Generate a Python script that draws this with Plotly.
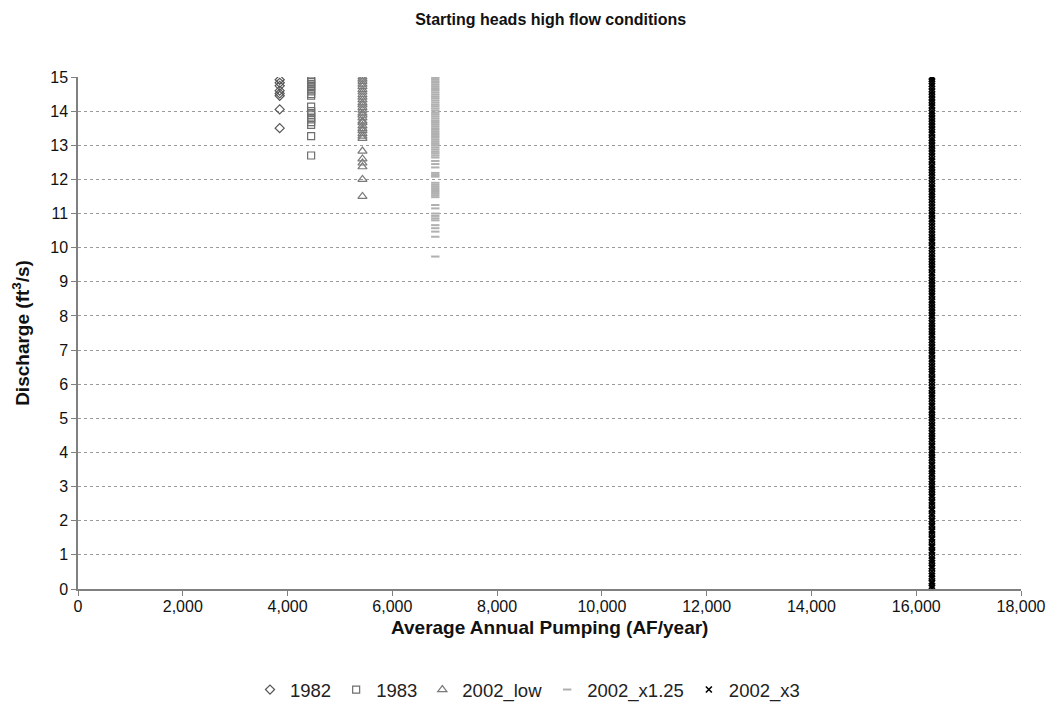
import plotly.graph_objects as go

# Average annual pumping (AF/year) for each scenario
pumping = {
    "1982": 3850,
    "1983": 4450,
    "2002_low": 5430,
    "2002_x1.25": 6820,
    "2002_x3": 16300,
}

# Discharge (ft3/s) values for each scenario
q_1982 = [14.92, 14.83, 14.74, 14.6, 14.52, 14.45, 14.05, 13.5]

q_1983 = [14.95, 14.9, 14.86, 14.8, 14.74, 14.7, 14.63, 14.58, 14.5, 14.45,
          14.13, 14.0, 13.94, 13.88, 13.81, 13.76, 13.68, 13.6, 13.27, 12.7]

q_2002_low = [15.0, 14.94, 14.87, 14.79, 14.72, 14.63, 14.56, 14.48, 14.41, 14.33,
              14.24, 14.18, 14.1, 14.03, 13.94, 13.88, 13.8, 13.71, 13.66, 13.57,
              13.49, 13.43, 13.34, 13.27, 13.2, 12.83, 12.6, 12.48, 12.37, 12.0,
              11.5]

q_2002_x125 = [15.0, 14.94, 14.88, 14.83, 14.77, 14.71, 14.65, 14.6, 14.54, 14.48,
               14.42, 14.37, 14.31, 14.25, 14.19, 14.14, 14.08, 14.02, 13.96, 13.91,
               13.85, 13.79, 13.73, 13.68, 13.62, 13.56, 13.5, 13.45, 13.39, 13.33,
               13.27, 13.22, 13.16, 13.1, 13.04, 12.99, 12.93, 12.87, 12.81, 12.76,
               12.7, 12.64, 12.54, 12.45, 12.35, 12.19, 12.13, 12.08, 11.9, 11.84,
               11.78, 11.72, 11.66, 11.6, 11.54, 11.48, 11.25, 11.15, 11.0, 10.93,
               10.86, 10.8, 10.66, 10.57, 10.47, 10.32, 9.74]

q_2002_x3 = [0.03, 0.09, 0.17, 0.22, 0.31, 0.38, 0.44, 0.52, 0.61, 0.67,
             0.76, 0.83, 0.9, 0.98, 1.07, 1.13, 1.22, 1.28, 1.37, 1.45,
             1.51, 1.6, 1.68, 1.74, 1.83, 1.9, 1.99, 2.05, 2.14, 2.21,
             2.3, 2.36, 2.45, 2.53, 2.6, 2.69, 2.75, 2.84, 2.92, 2.99,
             3.07, 3.15, 3.22, 3.31, 3.38, 3.46, 3.53, 3.62, 3.69, 3.78,
             3.85, 3.93, 4.01, 4.08, 4.17, 4.24, 4.33, 4.4, 4.48, 4.56,
             4.63, 4.72, 4.79, 4.87, 4.95, 5.03, 5.1, 5.19, 5.26, 5.35,
             5.42, 5.5, 5.58, 5.66, 5.73, 5.82, 5.89, 5.97, 6.05, 6.13,
             6.2, 6.29, 6.36, 6.44, 6.52, 6.6, 6.68, 6.75, 6.84, 6.91,
             6.99, 7.07, 7.15, 7.23, 7.3, 7.39, 7.46, 7.54, 7.62, 7.7,
             7.78, 7.85, 7.94, 8.01, 8.09, 8.17, 8.25, 8.33, 8.41, 8.48,
             8.57, 8.64, 8.72, 8.8, 8.88, 8.96, 9.04, 9.12, 9.2, 9.27,
             9.36, 9.43, 9.51, 9.59, 9.67, 9.75, 9.83, 9.91, 9.99, 10.06,
             10.15, 10.22, 10.3, 10.38, 10.46, 10.54, 10.62, 10.7, 10.78, 10.85,
             10.94, 11.01, 11.09, 11.17, 11.25, 11.33, 11.41, 11.49, 11.57, 11.64,
             11.73, 11.8, 11.88, 11.96, 12.04, 12.12, 12.2, 12.28, 12.36, 12.43,
             12.52, 12.59, 12.67, 12.75, 12.83, 12.91, 12.99, 13.07, 13.15, 13.22,
             13.31, 13.38, 13.46, 13.54, 13.62, 13.7, 13.78, 13.86, 13.94, 14.01,
             14.1, 14.17, 14.25, 14.33, 14.41, 14.49, 14.57, 14.65, 14.73, 14.8,
             14.88, 14.95, 15.0]

x_ticks = [0, 2000, 4000, 6000, 8000, 10000, 12000, 14000, 16000, 18000]
y_ticks = list(range(0, 16))

FONT = "Liberation Sans, Arial, sans-serif"

series = [
    ("1982", q_1982, dict(symbol="diamond-open", size=7, color="#555555",
                          line=dict(width=1.2, color="#555555"))),
    ("1983", q_1983, dict(symbol="square-open", size=7, color="#6e6e6e",
                          line=dict(width=1.2, color="#6e6e6e"))),
    ("2002_low", q_2002_low, dict(symbol="triangle-up-open", size=8, color="#7a7a7a",
                                  line=dict(width=1.2, color="#7a7a7a"))),
    ("2002_x1.25", q_2002_x125, dict(symbol="line-ew", size=6, color="#b0b0b0",
                                     line=dict(width=2, color="#b0b0b0"))),
    ("2002_x3", q_2002_x3, dict(symbol="x-thin", size=6, color="#000000",
                                line=dict(width=1.6, color="#000000"))),
]

fig = go.Figure()
for name, q, marker in series:
    fig.add_trace(go.Scatter(
        x=[pumping[name]] * len(q),
        y=q,
        mode="markers",
        name=name,
        marker=marker,
    ))

# x-axis title placed just under the tick labels
fig.add_annotation(
    text="<b>Average Annual Pumping (AF/year)</b>",
    xref="paper", x=0.5, xanchor="center",
    yref="paper", y=(589 - 627) / 512, yanchor="middle",
    showarrow=False,
    font=dict(size=19, family=FONT, color="#111111"),
)

fig.update_layout(
    width=1055,
    height=714,
    margin=dict(l=78, r=34, t=77, b=125, autoexpand=False),
    paper_bgcolor="white",
    plot_bgcolor="white",
    font=dict(family=FONT, color="#111111"),
    title=dict(
        text="<b>Starting heads high flow conditions</b>",
        x=0.522, xanchor="center",
        y=1 - 19 / 714, yanchor="middle",
        font=dict(size=16, family=FONT, color="#111111"),
    ),
    showlegend=True,
    legend=dict(
        orientation="h",
        xref="container", x=0.5, xanchor="center",
        yref="container", y=1 - 690 / 714, yanchor="middle",
        font=dict(size=18.5, family=FONT, color="#222222"),
        itemwidth=30,
        bgcolor="rgba(0,0,0,0)",
    ),
    xaxis=dict(
        range=[0, 18000],
        tickvals=x_ticks,
        tickformat=",",
        showgrid=False,
        zeroline=False,
        showline=True,
        linecolor="#808080",
        linewidth=1.5,
        ticks="outside",
        ticklen=5,
        tickcolor="#808080",
        ticklabelstandoff=-3,
        automargin=False,
        tickfont=dict(size=16, family=FONT, color="#111111"),
    ),
    yaxis=dict(
        range=[0, 15],
        tickvals=y_ticks,
        showgrid=True,
        gridcolor="#9a9a9a",
        gridwidth=1,
        griddash="3px,3px",
        zeroline=False,
        showline=True,
        linecolor="#808080",
        linewidth=1.5,
        ticks="outside",
        ticklen=5,
        tickcolor="#808080",
        automargin=False,
        tickfont=dict(size=16, family=FONT, color="#111111"),
        title=dict(
            text="<b>Discharge (ft<sup>3</sup>/s)</b>",
            font=dict(size=19, family=FONT, color="#111111"),
            standoff=16,
        ),
    ),
)

fig.write_html("out.html")
